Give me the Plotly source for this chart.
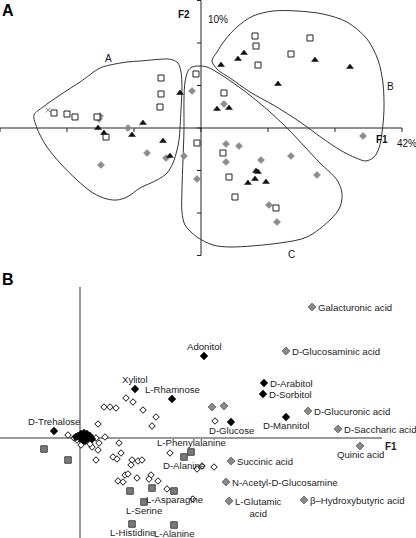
import plotly.graph_objects as go

FONT = "Liberation Sans, Arial, sans-serif"

# ================= Panel A : F1 (42%) x F2 (10%) =================
a_ticks = [-3, -2, -1, 0, 1, 2, 3]

a_square_x = [-2.194, -2.0, -1.881, -1.552, -0.597, -0.597, -0.612, -1.418, -0.075, -0.06,
              0.343, 0.328, 0.418, 0.507, 1.119, 0.806, 0.821, 0.851, 1.627, 1.343]
a_square_y = [0.353, 0.329, 0.259, 0.259, 1.176, 0.8, 0.494, -0.212, 1.271, -0.353,
              0.824, -0.588, -1.153, -1.624, -1.882, 2.165, 1.929, 1.482, 2.118, 1.741]

a_tri_x = [-1.537, -1.448, -1.030, -0.866, -0.313, -0.567, -0.463, 0.239, 0.418, 0.299,
           0.552, 0.642, 1.701, 2.224, 1.149, 0.821, 0.851, 0.806, 0.701, 0.970]
a_tri_y = [0.0, -0.118, -0.165, 0.118, 0.824, -0.306, -0.659, 0.447, 0.471, 1.482,
           1.624, 1.765, 1.6, 1.435, 1.035, -1.012, -1.035, -1.2, -1.294, -1.271]

a_dia_x = [-1.507, -1.522, -1.090, -0.134, -0.806, -0.522, -0.254, -1.493, -0.06, 0.343,
           0.373, 0.567, 0.373, 0.896, 1.343, 1.731, 1.015, 1.134, 2.418]
a_dia_y = [0.282, 0.212, 0.0, 0.871, -0.588, -0.706, -0.659, -0.871, -1.2, 0.565,
           -0.376, -0.424, -0.8, -0.753, -0.659, -1.106, -1.812, -2.212, -0.188]

a_cross_x = [-2.284]
a_cross_y = [0.424]

# group outlines (A, B, C)
outline_a_x = [-2.493, -2.358, -2.104, -1.806, -1.507, -1.358, -1.104, -0.910, -0.507, -0.418,
               -0.343, -0.299, -0.284, -0.299, -0.328, -0.358, -0.418, -0.507, -0.657, -0.910,
               -1.104, -1.254, -1.403, -1.612, -1.851, -2.104, -2.299, -2.403, -2.448]
outline_a_y = [0.306, 0.494, 0.776, 1.082, 1.412, 1.482, 1.553, 1.576, 1.624, 1.6,
               1.529, 1.318, 0.965, 0.424, -0.282, -0.518, -0.824, -1.059, -1.224, -1.412,
               -1.624, -1.694, -1.671, -1.529, -1.224, -0.824, -0.447, -0.165, 0.0]

outline_b_x = [0.164, 0.239, 0.358, 0.537, 0.776, 1.075, 1.433, 1.821, 2.179, 2.478,
               2.642, 2.716, 2.731, 2.701, 2.657, 2.582, 2.463, 2.313, 2.075, 1.806,
               1.478, 1.104, 0.731, 0.433, 0.254]
outline_b_y = [1.576, 1.788, 2.071, 2.376, 2.635, 2.753, 2.753, 2.682, 2.494, 2.094,
               1.6, 1.059, 0.424, -0.118, -0.471, -0.682, -0.776, -0.706, -0.518, -0.235,
               0.141, 0.518, 0.847, 1.176, 1.365]

outline_c_x = [-0.045, 0.090, 0.328, 0.687, 1.030, 1.328, 1.552, 1.776, 2.030, 2.104,
               2.075, 1.925, 1.582, 1.179, 0.433, 0.179, -0.060, -0.239, -0.284, -0.284,
               -0.269, -0.254, -0.254, -0.239, -0.194, -0.134]
outline_c_y = [1.459, 1.435, 1.224, 0.824, 0.376, -0.071, -0.447, -0.824, -1.224, -1.529,
               -1.859, -2.165, -2.565, -2.706, -2.8, -2.753, -2.565, -2.282, -1.976, -1.459,
               -0.753, -0.047, 0.659, 1.082, 1.341, 1.435]

group_names = ["A", "B", "C"]
group_x = [-1.388, 2.821, 1.358]
group_y = [1.624, 0.988, -2.988]

# ================= Panel B : variables =================
black_names = ["Adonitol", "D-Arabitol", "D-Sorbitol", "D-Mannitol", "D-Glucose",
               "Xylitol", "L-Rhamnose", "D-Trehalose"]
black_x = [1.24, 1.84, 1.83, 2.06, 1.51, 0.55, 0.92, -0.26]
black_y = [0.82, 0.55, 0.44, 0.21, 0.16, 0.49, 0.39, 0.07]
black_pos = ["top", "right", "right", "bottom", "bottom", "top", "top", "top"]

cluster_x = [-0.02, 0.01, 0.04, 0.06, 0.08, 0.03, 0.0, 0.10, 0.05, -0.04, 0.12, 0.07, 0.02]
cluster_y = [0.02, 0.04, 0.05, 0.02, 0.0, -0.02, 0.0, 0.02, -0.03, 0.01, -0.01, 0.04, 0.01]

grey_names = ["Galacturonic acid", "D-Glucosaminic acid", "D-Glucuronic acid",
              "D-Saccharic acid", "Quinic acid", "Succinic acid",
              "N-Acetyl-D-Glucosamine", "L-Glutamic<br>acid", "β–Hydroxybutyric acid", "", ""]
grey_x = [2.32, 2.06, 2.28, 2.58, 2.80, 1.51, 1.46, 1.49, 2.24, 1.32, 1.44]
grey_y = [1.31, 0.87, 0.27, 0.09, -0.08, -0.23, -0.44, -0.63, -0.62, 0.31, 0.32]
grey_pos = ["right", "right", "right", "right", "bottom", "right", "right", "right2", "right", "", ""]

sq_names = ["L-Phenylalanine", "D-Alanine", "L-Asparagine", "L-Serine", "L-Histidine",
            "L-Alanine", "", "", "", ""]
sq_x = [1.11, 1.04, 0.94, 0.64, 0.52, 0.94, -0.36, -0.12, 0.50, 0.72]
sq_y = [-0.14, -0.19, -0.53, -0.64, -0.86, -0.87, -0.11, -0.22, -0.53, -0.50]
sq_pos = ["top", "bottom", "bottom", "bottom", "bottom", "bottom", "", "", "", ""]

open_x = [0.46, 0.53, 0.24, 0.30, 0.36, 0.63, 0.76, 0.72, 0.18, -0.12, -0.06, -0.03, 0.01,
          0.12, 0.19, 0.25, 0.18, 0.39, 0.16, 0.33, 0.37, 0.41, 0.52, 0.51, 0.58, 0.62,
          0.90, 1.17, 1.22, 1.34, 0.45, 0.48, 0.57, 0.71, 0.69, 0.78, 0.38, 0.43, 0.87,
          1.13, 1.35, 0.10, 0.16]
open_y = [0.40, 0.36, 0.31, 0.31, 0.30, 0.28, 0.21, 0.12, 0.14, 0.03, 0.0, -0.02, -0.07,
          -0.09, -0.05, 0.01, -0.12, -0.05, -0.22, -0.19, -0.21, -0.15, -0.22, -0.27, -0.23, -0.22,
          -0.15, -0.31, -0.28, -0.29, -0.37, -0.36, -0.40, -0.37, -0.41, -0.43, -0.43, -0.44, -0.51,
          -0.61, 0.17, -0.06, 0.0]

fig = go.Figure()

# ---------- Panel A traces ----------
AX = dict(xaxis="x", yaxis="y")
axis_col_a = "#222222"
fig.add_trace(go.Scatter(x=[a_ticks[0], a_ticks[-1]], y=[0, 0], mode="lines",
                         line=dict(color=axis_col_a, width=1), hoverinfo="skip", **AX))
fig.add_trace(go.Scatter(x=[0, 0], y=[a_ticks[0], a_ticks[-1]], mode="lines",
                         line=dict(color=axis_col_a, width=1), hoverinfo="skip", **AX))
tx, ty = [], []
for t in a_ticks:
    tx += [t, t, None]
    ty += [0, -0.094, None]
for t in a_ticks:
    tx += [0, -0.06, None]
    ty += [t, t, None]
fig.add_trace(go.Scatter(x=tx, y=ty, mode="lines", line=dict(color=axis_col_a, width=1),
                         hoverinfo="skip", **AX))

for ox, oy in [(outline_a_x, outline_a_y), (outline_b_x, outline_b_y), (outline_c_x, outline_c_y)]:
    fig.add_trace(go.Scatter(x=ox + ox[:1], y=oy + oy[:1], mode="lines",
                             line=dict(color="#333333", width=1, shape="spline", smoothing=0.9),
                             hoverinfo="skip", **AX))

fig.add_trace(go.Scatter(x=a_dia_x, y=a_dia_y, mode="markers",
                         marker=dict(symbol="diamond", size=5.5, color="#8c8c8c",
                                     line=dict(color="#8c8c8c", width=0.5)), **AX))
fig.add_trace(go.Scatter(x=a_square_x, y=a_square_y, mode="markers",
                         marker=dict(symbol="square", size=6, color="white",
                                     line=dict(color="#222222", width=1)), **AX))
fig.add_trace(go.Scatter(x=a_tri_x, y=a_tri_y, mode="markers",
                         marker=dict(symbol="triangle-up", size=6, color="#111111",
                                     line=dict(color="#111111", width=0.5)), **AX))
fig.add_trace(go.Scatter(x=a_cross_x, y=a_cross_y, mode="markers",
                         marker=dict(symbol="x-thin", size=5, color="#888888",
                                     line=dict(color="#888888", width=1)), **AX))

# ---------- Panel B traces ----------
BX = dict(xaxis="x2", yaxis="y2")
axis_col_b = "#777777"
fig.add_trace(go.Scatter(x=[-0.8, 3.02], y=[0, 0], mode="lines",
                         line=dict(color=axis_col_b, width=1.5), hoverinfo="skip", **BX))
fig.add_trace(go.Scatter(x=[0, 0], y=[-1.0, 1.51], mode="lines",
                         line=dict(color=axis_col_b, width=1.5), hoverinfo="skip", **BX))

fig.add_trace(go.Scatter(x=open_x, y=open_y, mode="markers",
                         marker=dict(symbol="diamond", size=5, color="white",
                                     line=dict(color="#111111", width=1)), **BX))
fig.add_trace(go.Scatter(x=sq_x, y=sq_y, mode="markers",
                         marker=dict(symbol="square", size=6.5, color="#7a7a7a",
                                     line=dict(color="#444444", width=1)), **BX))
fig.add_trace(go.Scatter(x=grey_x, y=grey_y, mode="markers",
                         marker=dict(symbol="diamond", size=6, color="#8a8a8a",
                                     line=dict(color="#555555", width=0.8)), **BX))
fig.add_trace(go.Scatter(x=cluster_x + black_x, y=cluster_y + black_y, mode="markers",
                         marker=dict(symbol="diamond", size=6, color="#000000",
                                     line=dict(color="#000000", width=0.5)), **BX))

annotations = []
lab_font = dict(family=FONT, size=9.6, color="#222222")


def add_labels(names, xs, ys, poss):
    for n, x, y, p in zip(names, xs, ys, poss):
        if not n:
            continue
        a = dict(x=x, y=y, xref="x2", yref="y2", text=n, showarrow=False, font=lab_font)
        if p == "right":
            a.update(xanchor="left", yanchor="middle", xshift=4)
        elif p == "right2":
            a.update(xanchor="left", yanchor="top", xshift=4, yshift=7, align="center")
        elif p == "top":
            a.update(xanchor="center", yanchor="middle", yshift=10)
        elif p == "bottom":
            a.update(xanchor="center", yanchor="middle", yshift=-8)
        annotations.append(a)


add_labels(black_names, black_x, black_y, black_pos)
add_labels(grey_names, grey_x, grey_y, grey_pos)
add_labels(sq_names, sq_x, sq_y, sq_pos)

# Panel A texts
for n, x, y in zip(group_names, group_x, group_y):
    annotations.append(dict(x=x, y=y, xref="x", yref="y", text=n, showarrow=False,
                            font=dict(family=FONT, size=10, color="#111111")))
annotations += [
    dict(x=-0.254, y=2.682, xref="x", yref="y", text="<b>F2</b>", showarrow=False,
         font=dict(family=FONT, size=10, color="#111111")),
    dict(x=0.07, y=2.565, xref="x", yref="y", text="10%", showarrow=False, xanchor="left",
         font=dict(family=FONT, size=10, color="#111111")),
    dict(x=2.701, y=-0.282, xref="x", yref="y", text="<b>F1</b>", showarrow=False,
         font=dict(family=FONT, size=10, color="#111111")),
    dict(x=2.90, y=-0.353, xref="x", yref="y", text="42%", showarrow=False, xanchor="left",
         font=dict(family=FONT, size=10, color="#111111")),
    dict(x=-0.13, y=1.55, xref="x2", yref="y2", text="<b>F2</b>", showarrow=False,
         font=dict(family=FONT, size=9.5, color="#222222")),
    dict(x=3.11, y=-0.08, xref="x2", yref="y2", text="<b>F1</b>", showarrow=False,
         font=dict(family=FONT, size=10, color="#222222")),
    dict(x=0.0, y=0.9805, xref="paper", yref="paper", text="<b>A</b>", showarrow=False,
         xanchor="left", yanchor="middle", font=dict(family=FONT, size=16, color="#000000")),
    dict(x=0.0, y=0.4814, xref="paper", yref="paper", text="<b>B</b>", showarrow=False,
         xanchor="left", yanchor="middle", font=dict(family=FONT, size=16, color="#000000")),
]

hidden = dict(visible=False, showgrid=False, zeroline=False, fixedrange=True)
fig.update_layout(
    width=416, height=538, autosize=False,
    margin=dict(l=0, r=0, t=0, b=0, pad=0),
    paper_bgcolor="white", plot_bgcolor="white",
    showlegend=False,
    xaxis=dict(domain=[0, 1], range=[-3.0, 3.209], **hidden),
    yaxis=dict(domain=[0.5, 1], range=[-3.318, 3.012], **hidden),
    xaxis2=dict(domain=[0, 1], range=[-0.8, 3.36], **hidden),
    yaxis2=dict(domain=[0, 0.47], range=[-1.0, 1.5286], **hidden),
    annotations=annotations,
    font=dict(family=FONT),
)

fig.write_html(
    "out.html",
    config={"displayModeBar": False},
    post_script="document.body.style.margin='0';document.body.style.padding='0';"
                "document.body.style.overflow='hidden';",
)
